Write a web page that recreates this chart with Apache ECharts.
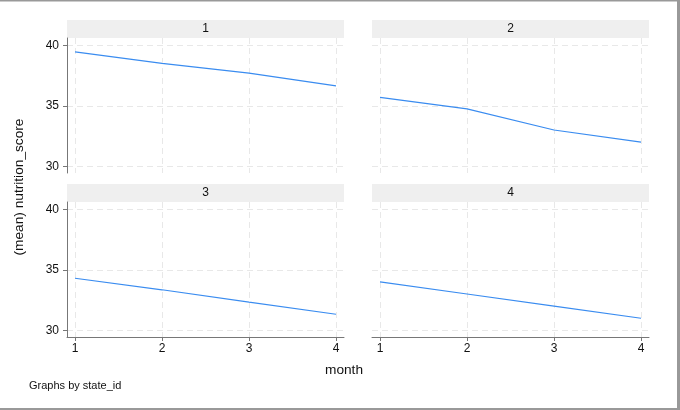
<!DOCTYPE html>
<html>
<head>
<meta charset="utf-8">
<script src="https://cdn.jsdelivr.net/npm/echarts@6/dist/echarts.min.js"></script>
<style>
html,body{margin:0;padding:0;background:#fff;}
#c{width:680px;height:410px;}
</style>
</head>
<body>
<div id="c"></div>
<script>
const months = [1, 2, 3, 4];
const panelNames = ['1', '2', '3', '4'];
const state1 = [39.45, 38.5, 37.7, 36.65];
const state2 = [35.7, 34.75, 33.0, 32.0];
const state3 = [34.3, 33.35, 32.33, 31.33];
const state4 = [34.0, 33.0, 32.0, 31.0];
const yTicks = [30, 35, 40];
const xTicks = [1, 2, 3, 4];
const yTitle = '(mean) nutrition_score';
const xTitle = 'month';
const note = 'Graphs by state_id';

const seriesData = [state1, state2, state3, state4];
const font = 'Liberation Sans, Arial, Helvetica, sans-serif';

const gridPos = [
  {left: 67, top: 38, width: 277, height: 135},
  {left: 372, top: 38, width: 277, height: 135},
  {left: 67, top: 202, width: 277, height: 135},
  {left: 372, top: 202, width: 277, height: 135}
];

const chart = echarts.init(document.getElementById('c'), null, {renderer: 'canvas'});

const grids = gridPos.map(g => Object.assign({containLabel: false}, g));
const xAxes = gridPos.map((g, i) => ({
  type: 'value', gridIndex: i, min: 0.908, max: 4.092,
  axisLine: {show: i >= 2, onZero: false, lineStyle: {color: '#777', width: 1}},
  axisTick: {show: i >= 2, length: 4, customValues: xTicks, lineStyle: {color: '#777'}},
  axisLabel: {show: i >= 2, customValues: xTicks, color: '#111', fontSize: 12, fontFamily: font, margin: 6},
  splitLine: {show: true, lineStyle: {color: '#e8e8e8', type: [6, 4], width: 1}}
}));
const yAxes = gridPos.map((g, i) => ({
  type: 'value', gridIndex: i, min: 29.45, max: 40.6,
  axisLine: {show: i % 2 === 0, onZero: false, lineStyle: {color: '#777', width: 1}},
  axisTick: {show: i % 2 === 0, length: 4, customValues: yTicks, lineStyle: {color: '#777'}},
  axisLabel: {show: i % 2 === 0, customValues: yTicks, color: '#111', fontSize: 12, fontFamily: font, margin: 8},
  splitLine: {show: true, lineStyle: {color: '#e8e8e8', type: [6, 4], width: 1}}
}));
const series = seriesData.map((d, i) => ({
  type: 'line', xAxisIndex: i, yAxisIndex: i,
  data: months.map((m, k) => [m, d[k]]),
  showSymbol: false, symbol: 'none',
  lineStyle: {color: '#3a8cf0', width: 1.2},
  silent: true, animation: false
}));

const graphics = [];
gridPos.forEach((g, i) => {
  graphics.push({
    type: 'rect', shape: {x: g.left, y: g.top - 18, width: g.width, height: 18},
    style: {fill: '#efefef'}, silent: true
  });
  graphics.push({
    type: 'text', x: g.left + g.width / 2, y: g.top - 9,
    style: {text: panelNames[i], fill: '#111', font: '12px ' + font, align: 'center', verticalAlign: 'middle'}
  });
});
graphics.push({
  type: 'text', x: 19, y: 187, rotation: Math.PI / 2,
  style: {text: yTitle, fill: '#111', font: '13.7px ' + font, align: 'center', verticalAlign: 'middle'}
});
graphics.push({
  type: 'text', x: 344, y: 370,
  style: {text: xTitle, fill: '#111', font: '13.7px ' + font, align: 'center', verticalAlign: 'middle'}
});
graphics.push({
  type: 'text', x: 29, y: 386,
  style: {text: note, fill: '#111', font: '11px ' + font, align: 'left', verticalAlign: 'middle'}
});
// figure frame (top, right, bottom)
graphics.push({type: 'rect', shape: {x: 0, y: 0, width: 680, height: 1.5}, style: {fill: '#999'}, silent: true});
graphics.push({type: 'rect', shape: {x: 677, y: 0, width: 3, height: 410}, style: {fill: '#999'}, silent: true});
graphics.push({type: 'rect', shape: {x: 0, y: 408, width: 680, height: 2}, style: {fill: '#999'}, silent: true});

chart.setOption({
  animation: false,
  backgroundColor: '#fff',
  grid: grids,
  xAxis: xAxes,
  yAxis: yAxes,
  series: series,
  graphic: graphics
});
</script>
</body>
</html>
